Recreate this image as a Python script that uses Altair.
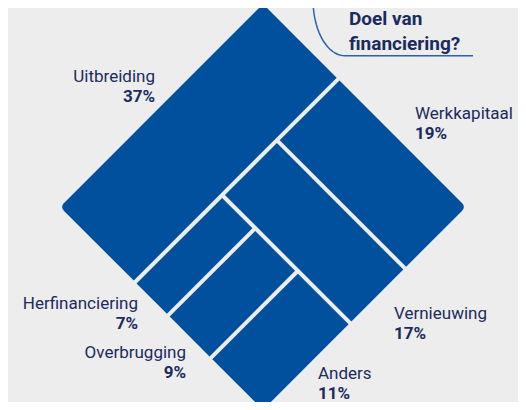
import math
import altair as alt

# ---- data -------------------------------------------------------------
categories = ["Uitbreiding", "Werkkapitaal", "Vernieuwing",
              "Herfinanciering", "Overbrugging", "Anders"]
shares = [37, 19, 17, 7, 9, 11]
# slice-and-dice nesting of the treemap (alternating split direction)
tree = ["Uitbreiding", ["Werkkapitaal", "Vernieuwing",
                        ["Herfinanciering", "Overbrugging", "Anders"]]]
title_lines = ["Doel van", "financiering?"]

# ---- layout / style ---------------------------------------------------
BLUE = "#00509e"
NAVY = "#1b2b5e"
BG = "#ededed"
LINE = "#2a62b0"
FONT = "Roboto"

TOP = (255.0, -4.0)     # top vertex of the rotated square (chart px)
SIDE = 287.0            # side length of the square (px)
GAP = 4.0               # gap between tiles (px)
RADIUS = 6.0            # rounding of outer corners (px)

# label anchors (chart px, alphabetic baseline of the name) and alignment
label_pos = {
    "Uitbreiding":     (147, 74.4, "right"),
    "Werkkapitaal":    (407, 110.6, "left"),
    "Herfinanciering": (130, 301.4, "right"),
    "Overbrugging":    (178, 349.6, "right"),
    "Vernieuwing":     (386, 310.6, "left"),
    "Anders":          (310, 371.0, "left"),
}
LINE_STEP = 20
LABEL_SIZE = 17


def value(node):
    if isinstance(node, str):
        return shares[categories.index(node)]
    return sum(value(c) for c in node)


def layout(node, a0, a1, b0, b1, direction, out):
    if isinstance(node, str):
        out[node] = (a0, a1, b0, b1)
        return
    total = value(node)
    pos = a0 if direction == "a" else b0
    nxt = "b" if direction == "a" else "a"
    for child in node:
        if direction == "a":
            w = (a1 - a0) * value(child) / total
            layout(child, pos, pos + w, b0, b1, nxt, out)
        else:
            w = (b1 - b0) * value(child) / total
            layout(child, a0, a1, pos, pos + w, nxt, out)
        pos += w


rects = {}
layout(tree, 0.0, 1.0, 0.0, 1.0, "a", rects)

s2 = math.sqrt(2.0)


def to_screen(a, b):
    return (TOP[0] + SIDE * (a - b) / s2, TOP[1] + SIDE * (a + b) / s2)


g = GAP / SIDE / 2.0
features = []
for name in categories:
    a0, a1, b0, b1 = rects[name]
    if a0 > 1e-9: a0 += g
    if a1 < 1 - 1e-9: a1 -= g
    if b0 > 1e-9: b0 += g
    if b1 < 1 - 1e-9: b1 -= g
    corners_ab = [(a0, b0), (a1, b0), (a1, b1), (a0, b1)]
    pts = [to_screen(a, b) for a, b in corners_ab]
    ring = []
    n = len(pts)
    for i, (a, b) in enumerate(corners_ab):
        outer = (abs(a) < 1e-9 or abs(a - 1) < 1e-9) and (abs(b) < 1e-9 or abs(b - 1) < 1e-9)
        V = pts[i]
        if not outer:
            ring.append(list(V))
            continue
        P = pts[i - 1]
        N = pts[(i + 1) % n]
        dP = math.hypot(P[0] - V[0], P[1] - V[1])
        dN = math.hypot(N[0] - V[0], N[1] - V[1])
        A = (V[0] + RADIUS * (P[0] - V[0]) / dP, V[1] + RADIUS * (P[1] - V[1]) / dP)
        B = (V[0] + RADIUS * (N[0] - V[0]) / dN, V[1] + RADIUS * (N[1] - V[1]) / dN)
        for k in range(9):
            t = k / 8.0
            x = (1 - t) ** 2 * A[0] + 2 * (1 - t) * t * V[0] + t ** 2 * B[0]
            y = (1 - t) ** 2 * A[1] + 2 * (1 - t) * t * V[1] + t ** 2 * B[1]
            ring.append([x, y])
    ring.append(ring[0])
    features.append({"type": "Feature",
                     "properties": {"name": name},
                     "geometry": {"type": "Polygon", "coordinates": [ring]}})

proj = dict(type="identity", scale=1, translate=[0, 0])

tiles = alt.Chart(alt.Data(values=features)).mark_geoshape(
    fill=BLUE, strokeWidth=0
).project(**proj)

label_rows = []
for name, v in zip(categories, shares):
    x, y, al = label_pos[name]
    label_rows.append({"name": name, "pct": f"{v}%", "x": x, "y": y,
                       "y2": y + LINE_STEP, "side": al})
labels = alt.Data(values=label_rows)

layers = [tiles]
for side in ["left", "right"]:
    base = alt.Chart(labels).transform_filter(alt.datum.side == side)
    layers.append(base.mark_text(font=FONT, fontSize=LABEL_SIZE, color=NAVY,
                                 align=side, baseline="alphabetic").encode(
        longitude="x:Q", latitude="y:Q", text="name:N").project(**proj))
    layers.append(base.mark_text(font=FONT, fontSize=LABEL_SIZE, fontWeight="bold",
                                 color=NAVY, align=side, baseline="alphabetic").encode(
        longitude="x:Q", latitude="y2:Q", text="pct:N").project(**proj))

# title
title_rows = [{"t": t, "x": 341, "y": 17.0 + 24.5 * i} for i, t in enumerate(title_lines)]
layers.append(alt.Chart(alt.Data(values=title_rows)).mark_text(
    font=FONT, fontSize=19, fontWeight="bold", color=NAVY,
    align="left", baseline="alphabetic").encode(
    longitude="x:Q", latitude="y:Q", text="t:N").project(**proj))

# decorative bracket line beside the title
deco = []
cx, cy, rx, ry = 337.0, -8.5, 32.0, 56.3
for k in range(21):
    th = math.pi - (math.pi / 2) * k / 20.0
    deco.append({"i": k, "x": cx + rx * math.cos(th), "y": cy + ry * math.sin(th)})
deco.append({"i": 21, "x": 465.0, "y": cy + ry})
layers.append(alt.Chart(alt.Data(values=deco)).mark_line(
    color=LINE, strokeWidth=1.5).encode(
    longitude="x:Q", latitude="y:Q", order="i:Q").project(**proj))

chart = alt.layer(*layers).properties(
    width=510, height=394, background=BG, padding=0, autosize="none"
).configure_view(strokeWidth=0)

chart.save("out.html", embed_options={"renderer": "svg", "actions": False})
